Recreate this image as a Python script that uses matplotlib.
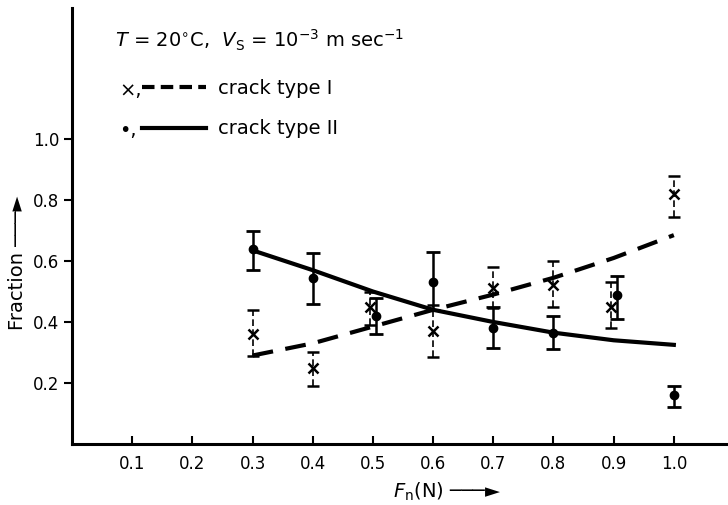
import numpy as np
import matplotlib
matplotlib.use("Agg")
from matplotlib import pyplot as plt
from matplotlib.lines import Line2D

# measured points, crack type I (x) and type II (dots)
fn = [0.3, 0.4, 0.5, 0.6, 0.7, 0.8, 0.9, 1.0]
x1 = [0.3, 0.4, 0.495, 0.6, 0.7, 0.8, 0.895, 1.0]
frac1 = [0.36, 0.25, 0.45, 0.37, 0.51, 0.52, 0.45, 0.82]
lo1 = [0.29, 0.19, 0.39, 0.285, 0.445, 0.45, 0.38, 0.745]
hi1 = [0.44, 0.30, 0.50, 0.455, 0.58, 0.60, 0.53, 0.88]

x2 = [0.3, 0.4, 0.505, 0.6, 0.7, 0.8, 0.905, 1.0]
frac2 = [0.64, 0.545, 0.42, 0.53, 0.38, 0.365, 0.49, 0.16]
lo2 = [0.57, 0.46, 0.36, 0.44, 0.315, 0.31, 0.41, 0.12]
hi2 = [0.70, 0.625, 0.48, 0.63, 0.45, 0.42, 0.55, 0.19]

# fitted curves
fit1 = [0.29, 0.33, 0.385, 0.44, 0.49, 0.545, 0.61, 0.685]
fit2 = [0.635, 0.57, 0.50, 0.44, 0.40, 0.365, 0.34, 0.325]

xticks = [0.1, 0.2, 0.3, 0.4, 0.5, 0.6, 0.7, 0.8, 0.9, 1.0]
yticks = [0.2, 0.4, 0.6, 0.8, 1.0]

plt.rcParams['font.family'] = 'DejaVu Sans'

fig = plt.figure(figsize=(7.28, 5.05), dpi=100)
ax = fig.add_axes([0.099, 0.121, 0.901, 0.863])

ax.plot(fn, fit1, color='black', lw=3, dashes=(5, 3))
ax.plot(fn, fit2, color='black', lw=3)

e1 = ax.errorbar(x1, frac1,
                 yerr=[np.subtract(frac1, lo1), np.subtract(hi1, frac1)],
                 fmt='x', color='black', ms=7, mew=1.8, ecolor='black',
                 elinewidth=1.2, capsize=4, capthick=1.5)
e1[2][0].set_linestyle((0, (4, 2)))
ax.errorbar(x2, frac2,
            yerr=[np.subtract(frac2, lo2), np.subtract(hi2, frac2)],
            fmt='o', color='black', ms=6, ecolor='black',
            elinewidth=1.8, capsize=5, capthick=2)

ax.set_xlim(0, 1.09)
ax.set_ylim(0, 1.43)
ax.set_xticks(xticks)
ax.set_xticklabels(['%.1f' % v for v in xticks], fontsize=12)
ax.set_yticks(yticks)
ax.set_yticklabels(['%.1f' % v for v in yticks], fontsize=12)
ax.tick_params(axis='x', direction='in', length=6, width=1.5, pad=8)
ax.tick_params(axis='y', direction='out', length=6, width=1.5, pad=3)
for s in ['top', 'right']:
    ax.spines[s].set_visible(False)
for s in ['left', 'bottom']:
    ax.spines[s].set_linewidth(2.2)

arrow = '\u2500\u2500\u2500\u25ba'
ax.set_ylabel('Fraction ' + arrow, fontsize=14)
ax.set_xlabel(r'$F_{\mathrm{n}}$(N) ' + arrow, fontsize=14)
ax.yaxis.set_label_coords(-0.069, 0.415)
ax.xaxis.set_label_coords(0.572, -0.085)

ax.text(0.065, 0.925,
        r'$T$ = 20$^{\circ}$C,  $V_{\mathrm{S}}$ = 10$^{-3}$ m sec$^{-1}$',
        transform=ax.transAxes, fontsize=14, va='center')
ax.text(0.072, 0.81, '\u00d7,', transform=ax.transAxes, fontsize=14, va='center')
ax.text(0.072, 0.72, '\u2022,', transform=ax.transAxes, fontsize=14, va='center')

handles = [Line2D([], [], color='black', lw=3, dashes=(3, 1.5)),
           Line2D([], [], color='black', lw=3)]
ax.legend(handles, ['crack type I', 'crack type II'], loc='upper left',
          bbox_to_anchor=(0.095, 0.855), frameon=False, fontsize=14,
          handlelength=3.3, handletextpad=0.6, labelspacing=1.1,
          borderaxespad=0)

fig.savefig('out.png', dpi=100)
